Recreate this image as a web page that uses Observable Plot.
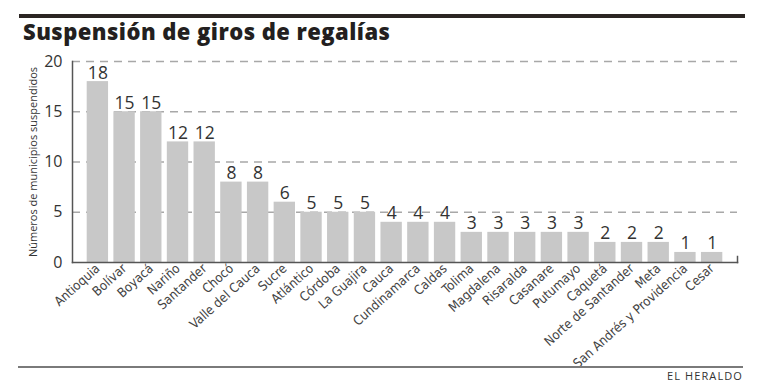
<!DOCTYPE html>
<html>
<head>
<meta charset="utf-8">
<script src="https://cdn.jsdelivr.net/npm/d3@7"></script>
<script src="https://cdn.jsdelivr.net/npm/@observablehq/plot@0.6"></script>
<style>
  html, body { margin: 0; padding: 0; background: #fff; }
  #wrap { position: relative; width: 760px; height: 386px; overflow: hidden; font-family: "Open Sans", sans-serif; }
  #topRule { position: absolute; left: 19px; top: 14px; width: 726px; height: 4px; background: #2b2523; }
  #title { position: absolute; left: 23px; top: 16px; font-family: "Open Sans", sans-serif; font-weight: 800; font-size: 22px; color: #231f20; white-space: nowrap; letter-spacing: 0.45px; }
  #bottomRule { position: absolute; left: 18px; top: 366px; width: 725px; height: 2px; background: #7a7a7a; }
  #credit { position: absolute; right: 17px; top: 368px; font-family: "Open Sans", sans-serif; font-size: 11px; color: #333; letter-spacing: 1.1px; }
  #chart { position: absolute; left: 0; top: 0; }
</style>
</head>
<body>
<div id="wrap">
  <div id="chart"></div>
  <div id="topRule"></div>
  <div id="title">Suspensión de giros de regalías</div>
  <div id="bottomRule"></div>
  <div id="credit">EL HERALDO</div>
</div>
<script>
const departments = ["Antioquia", "Bolívar", "Boyacá", "Nariño", "Santander", "Chocó", "Valle del Cauca", "Sucre", "Atlántico", "Córdoba", "La Guajira", "Cauca", "Cundinamarca", "Caldas", "Tolima", "Magdalena", "Risaralda", "Casanare", "Putumayo", "Caquetá", "Norte de Santander", "Meta", "San Andrés y Providencia", "Cesar"];
const suspended = [18, 15, 15, 12, 12, 8, 8, 6, 5, 5, 5, 4, 4, 4, 3, 3, 3, 3, 3, 2, 2, 2, 1, 1];
const yTicks = [0, 5, 10, 15, 20];
const gridTicks = [5, 10, 15, 20];
const yLabel = "Números de municipios suspendidos";

const data = departments.map((d, i) => ({name: d, value: suspended[i]}));

const chart = Plot.plot({
  width: 760,
  height: 386,
  marginTop: 61,
  marginBottom: 124,
  marginLeft: 72,
  marginRight: 23,
  style: {fontFamily: "'Open Sans', sans-serif", background: "transparent"},
  x: {domain: departments, paddingInner: 0.2, paddingOuter: 0.55, round: false},
  y: {domain: [0, 20]},
  marks: [
    Plot.gridY(gridTicks, {stroke: "#a8a8a8", strokeOpacity: 1, strokeWidth: 1.5, strokeDasharray: "8,6"}),
    Plot.barY(data, {x: "name", y: "value", fill: "#c8c8c8"}),
    Plot.text(data, {x: "name", y: "value", text: d => String(d.value), dy: -3, lineAnchor: "bottom", fontSize: 17.5, fill: "#333"}),
    Plot.frame({anchor: "left", stroke: "#555", strokeWidth: 1.5}),
    Plot.frame({anchor: "bottom", stroke: "#555", strokeWidth: 1.5}),
    Plot.frame({anchor: "right", stroke: "#555", strokeWidth: 1.5, insetTop: 195}),
    Plot.axisY({ticks: yTicks, tickSize: 0, tickPadding: 10, fontSize: 16, fill: "#333", label: yLabel, labelAnchor: "center", labelOffset: 43, labelArrow: "none"}),
    Plot.axisX({tickSize: 0, tickPadding: 4, tickRotate: -42, fontSize: 13, fill: "#444", fontFamily: "'Liberation Sans Narrow', 'DejaVu Sans Condensed', sans-serif", label: null})
  ]
});
chart.querySelectorAll("g[aria-label='y-axis label'] text, g[aria-label='y-axis label']").forEach(el => { el.setAttribute("font-size", "11"); });
document.getElementById("chart").appendChild(chart);
</script>
</body>
</html>
